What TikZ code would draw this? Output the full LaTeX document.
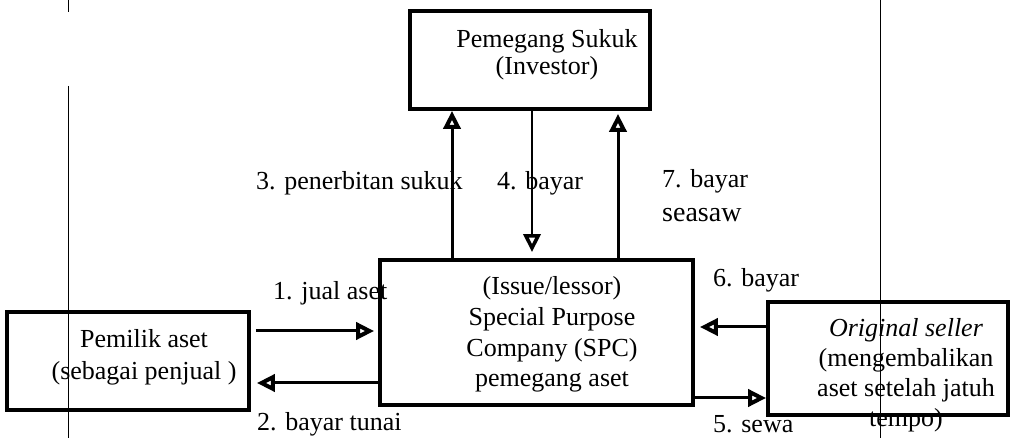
\documentclass[tikz,border=0pt]{standalone}
\usepackage{fontspec}
\setmainfont{Liberation Serif}
\usetikzlibrary{arrows.meta,calc}
\begin{document}
\begin{tikzpicture}[x=1pt,y=-1pt,
  box/.style={draw,line width=3.8pt,rectangle,inner sep=0pt},
  txt/.style={inner sep=0pt,align=center,anchor=base},
  lbl/.style={inner sep=0pt,anchor=base west,font=\fontsize{26}{30}\selectfont},
  arr/.style={line width=3pt,-{Triangle[open,length=18pt,width=17pt,line width=4pt]}},
  thinarr/.style={line width=1.9pt,-{Triangle[open,length=18pt,width=17pt,line width=3.5pt]}},
  guide/.style={line width=0.8pt}]
\useasboundingbox (0,0) rectangle (1010,438);
% guide lines
\draw[guide] (68,0) -- (68,12);
\draw[guide] (68,86) -- (68,438);
\draw[guide] (880,0) -- (880,438);
% texts
\node[txt,font=\fontsize{26}{27}\selectfont] (tinv) at (547,75) {Pemegang Sukuk\\(Investor)};
\node[txt,font=\fontsize{26}{30.7}\selectfont] (tspc) at (552,387) {(Issue/lessor)\\Special Purpose\\Company (SPC)\\pemegang aset};
\node[txt,font=\fontsize{26}{32}\selectfont] (tpem) at (144,380) {Pemilik aset\\(sebagai penjual )};
\node[txt,font=\fontsize{26}{30}\selectfont] (tos) at (906,427) {\textit{Original seller}\\(mengembalikan\\aset setelah jatuh\\tempo)};
\node[lbl] (l1) at (273,300) {1. jual aset};
\node[lbl] (l2) at (257,431) {2. bayar tunai};
\node[lbl] (l3) at (256,190) {3. penerbitan sukuk};
\node[lbl] (l4) at (497,190) {4. bayar};
\node[lbl] (l7) at (662,188) {7. bayar};
\node[lbl,font=\fontsize{28}{30}\selectfont] (l7b) at (662,222) {seasaw};
\node[lbl] (l6) at (713,287) {6. bayar};
\node[lbl] (l5) at (713,432) {5. sewa};
% boxes
\node[box,minimum width=240pt,minimum height=98pt] (inv) at (530,60) {};
\node[box,minimum width=313pt,minimum height=145pt] (spc) at (536.5,332.5) {};
\node[box,minimum width=242pt,minimum height=98pt] (pem) at (128,361) {};
\node[box,minimum width=240pt,minimum height=113pt] (os) at (888,358.5) {};
% connector rows / columns
\coordinate (c3) at (452,0);
\coordinate (c4) at (532,0);
\coordinate (c7) at (618,0);
\coordinate (r1) at (0,331);
\coordinate (r2) at (0,383);
\coordinate (r6) at (0,327);
\coordinate (r5) at (0,398);
% connectors
\draw[arr] (spc.north -| c3) -- (inv.south -| c3);
\draw[thinarr,shorten >=6pt] (inv.south -| c4) -- (spc.north -| c4);
\draw[arr,shorten >=3pt] (spc.north -| c7) -- (inv.south -| c7);
\draw[arr,shorten <=5pt,shorten >=4pt] (pem.east |- r1) -- (spc.west |- r1);
\draw[arr,shorten >=6pt] (spc.west |- r2) -- (pem.east |- r2);
\draw[arr,shorten >=5pt] (os.west |- r6) -- (spc.east |- r6);
\draw[arr] (spc.east |- r5) -- (os.west |- r5);
\end{tikzpicture}
\end{document}
